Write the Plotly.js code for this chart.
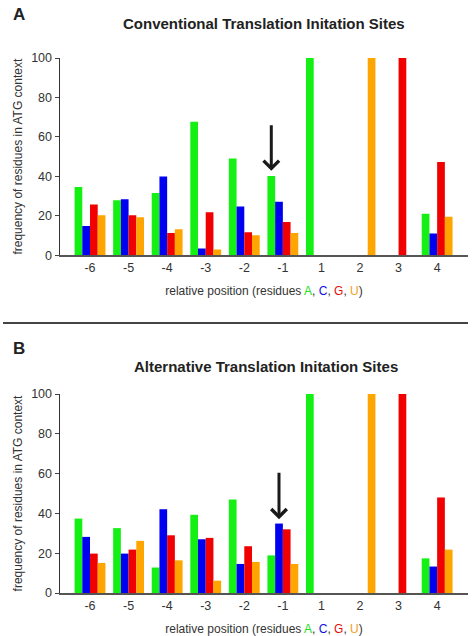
<!DOCTYPE html>
<html><head><meta charset="utf-8">
<script src="https://cdn.plot.ly/plotly-3.0.1.min.js"></script>
<style>html,body{margin:0;padding:0;background:#fff}</style>
</head><body><div id="chart" style="width:472px;height:636px"></div>
<script>
// Categories: relative position of residue with respect to ATG
const positions = ['-6', '-5', '-4', '-3', '-2', '-1', '1', '2', '3', '4'];
const residues = ['A', 'C', 'G', 'U'];

// Panel A: Conventional Translation Initiation Sites (frequency %)
const convA = [34.6, 27.9, 31.6, 67.7, 49.0, 40.2, 100, 0, 0, 21.0];
const convC = [14.9, 28.4, 39.9, 3.4, 24.7, 27.2, 0, 0, 0, 11.1];
const convG = [25.7, 20.3, 11.3, 21.8, 11.7, 16.9, 0, 0, 100, 47.3];
const convU = [20.3, 19.3, 13.2, 3.0, 10.1, 11.3, 0, 100, 0, 19.6];

// Panel B: Alternative Translation Initiation Sites (frequency %)
const altA = [37.4, 32.6, 12.8, 39.3, 47.0, 18.9, 100, 0, 0, 17.4];
const altC = [28.2, 19.8, 42.1, 27.0, 14.6, 34.9, 0, 0, 0, 13.3];
const altG = [19.8, 21.8, 29.0, 27.7, 23.5, 32.0, 0, 0, 100, 48.0];
const altU = [15.1, 26.2, 16.4, 6.2, 15.6, 14.6, 0, 100, 0, 21.8];

const titleA = 'Conventional Translation Initation Sites';
const titleB = 'Alternative Translation Initation Sites';
const xTitle = 'relative position (residues <span style="color:#22dd22">A</span>, <span style="color:#1010e0">C</span>, <span style="color:#e01010">G</span>, <span style="color:#f0a020">U</span>)';
const yTitle = 'frequency of residues in ATG context';

const colors = ['#14f014', '#0000f0', '#f00000', '#ffa500'];
const FONT = '"Liberation Sans", Arial, sans-serif';
const idx = positions.map((_, i) => i);

const W = 472, H = 636, ML = 60, MR = 4, MT = 58, MB = 43;
const PW = W - ML - MR, PH = H - MT - MB;
const px2x = p => (p - ML) / PW;
const px2y = p => (H - MB - p) / PH;

const BARGAP = 0.2;
function traces(series, xa, ya) {
  return series.map((vals, k) => ({
    type: 'bar', x: idx, y: vals, name: residues[k],
    xaxis: xa, yaxis: ya,
    marker: {color: colors[k], line: {width: 0}},
    showlegend: false, hoverinfo: 'x+y+name'
  }));
}
const data = [].concat(
  traces([convA, convC, convG, convU], 'x', 'y'),
  traces([altA, altC, altG, altU], 'x2', 'y2')
);

function barCenter(i, k) { return i + (k - 1.5) * (1 - BARGAP) / 4; }

const tickFont = {family: FONT, size: 12.5, color: '#333'};
const titleFont = {family: FONT, size: 12, color: '#333'};
function xax(anchor) {
  return {
    anchor: anchor, domain: [0, 1], range: [-0.778, 9.8],
    tickvals: idx, ticktext: positions, ticks: '',
    showline: true, linecolor: '#555', linewidth: 1.5,
    showgrid: false, zeroline: false, tickfont: tickFont,
    title: {text: xTitle, font: titleFont, standoff: 13}
  };
}
function yax(anchor, dom) {
  return {
    anchor: anchor, domain: dom, range: [0, 100],
    tickvals: [0, 20, 40, 60, 80, 100], ticks: 'outside', ticklen: 4,
    tickcolor: '#444', tickwidth: 1,
    showline: true, linecolor: '#333', linewidth: 1.5,
    showgrid: false, zeroline: false, tickfont: tickFont,
    title: {text: yTitle, font: titleFont, standoff: 6}
  };
}

const arrowA = {i: 5, k: 0, v: convA[5]};
const arrowB = {i: 5, k: 1, v: altC[5]};

const layout = {
  width: W, height: H,
  margin: {l: ML, r: MR, t: MT, b: MB},
  paper_bgcolor: '#fff', plot_bgcolor: '#fff',
  barmode: 'group', bargap: BARGAP, bargroupgap: 0,
  xaxis: xax('y'), yaxis: yax('x', [px2y(255.3), 1]),
  xaxis2: xax('y2'), yaxis2: yax('x2', [0, px2y(394)]),
  shapes: [{
    type: 'line', xref: 'paper', yref: 'paper',
    x0: px2x(3), x1: px2x(468), y0: px2y(323), y1: px2y(323),
    line: {color: '#444', width: 2}
  }],
  annotations: [
    {xref: 'paper', yref: 'paper', x: px2x(264), y: px2y(24), xanchor: 'center', yanchor: 'middle',
     text: '<b>' + titleA + '</b>', showarrow: false, font: {family: FONT, size: 15, color: '#222'}},
    {xref: 'paper', yref: 'paper', x: px2x(266), y: px2y(366), xanchor: 'center', yanchor: 'middle',
     text: '<b>' + titleB + '</b>', showarrow: false, font: {family: FONT, size: 15, color: '#222'}},
    {xref: 'paper', yref: 'paper', x: px2x(19), y: px2y(15), xanchor: 'center', yanchor: 'middle',
     text: '<b>A</b>', showarrow: false, font: {family: FONT, size: 17, color: '#222'}},
    {xref: 'paper', yref: 'paper', x: px2x(19), y: px2y(348), xanchor: 'center', yanchor: 'middle',
     text: '<b>B</b>', showarrow: false, font: {family: FONT, size: 17, color: '#222'}},
    {xref: 'x', yref: 'y', x: barCenter(arrowA.i, arrowA.k), y: arrowA.v + 2.6, text: '',
     showarrow: true, arrowhead: 4, arrowsize: 1, arrowwidth: 3, arrowcolor: '#1a1a1a',
     ax: 0, ay: -47, standoff: 0},
    {xref: 'x2', yref: 'y2', x: barCenter(arrowB.i, arrowB.k), y: arrowB.v + 2.2, text: '',
     showarrow: true, arrowhead: 4, arrowsize: 1, arrowwidth: 3, arrowcolor: '#1a1a1a',
     ax: 0, ay: -48, standoff: 0}
  ]
};

Plotly.newPlot('chart', data, layout, {displayModeBar: false, staticPlot: true});
</script></body></html>
